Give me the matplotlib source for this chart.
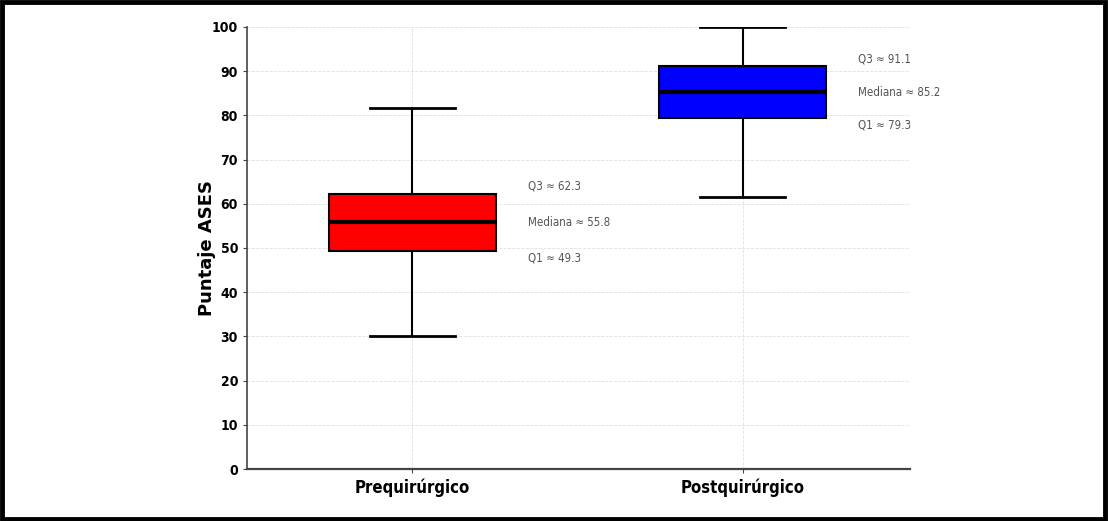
import matplotlib
matplotlib.use("Agg")
import matplotlib.pyplot as plt
from matplotlib.patches import Rectangle

# data
groups = ["Prequirúrgico", "Postquirúrgico"]
whisker_low = [30.0, 61.6]
q1 = [49.3, 79.3]
median = [55.8, 85.2]
q3 = [62.3, 91.1]
whisker_high = [81.7, 100.0]
box_colors = ["red", "blue"]

narrow = dict(family="DejaVu Sans", stretch="condensed")

fig = plt.figure(figsize=(11.08, 5.21), dpi=100)
ax = fig.add_axes([0.223, 0.0998, 0.598, 0.8484])

stats = []
for i, name in enumerate(groups):
    stats.append({
        "label": name,
        "whislo": whisker_low[i],
        "q1": q1[i],
        "med": median[i],
        "q3": q3[i],
        "whishi": whisker_high[i],
        "fliers": [],
    })

bp = ax.bxp(stats, positions=[1, 2], widths=0.505, patch_artist=True,
            showfliers=False,
            boxprops=dict(linewidth=1.5, edgecolor="black"),
            medianprops=dict(color="black", linewidth=3),
            whiskerprops=dict(color="black", linewidth=1.5),
            capprops=dict(color="black", linewidth=2),
            capwidths=0.257)
for patch, c in zip(bp["boxes"], box_colors):
    patch.set_facecolor(c)

# annotations next to each box
for i in range(len(groups)):
    x = i + 1 + 0.35
    ax.text(x, q3[i] + 1.7, f"Q3 ≈ {q3[i]:.1f}", ha="left", va="center",
            fontsize=8.3, color="#555555", **narrow)
    ax.text(x, median[i], f"Mediana ≈ {median[i]:.1f}", ha="left", va="center",
            fontsize=8.3, color="#555555", **narrow)
    ax.text(x, q1[i] - 1.5, f"Q1 ≈ {q1[i]:.1f}", ha="left", va="center",
            fontsize=8.3, color="#555555", **narrow)

ax.set_xlim(0.5, 2.505)
ax.set_ylim(0, 100)
ax.set_yticks(range(0, 101, 10))
ax.set_ylabel("Puntaje ASES", fontsize=13, fontweight="bold")
ax.yaxis.set_label_coords(-0.047, 0.5)

for lab in ax.get_yticklabels():
    lab.set_fontproperties(dict(size=10, weight="bold", **narrow))
for lab in ax.get_xticklabels():
    lab.set_fontproperties(dict(size=12, weight="bold", **narrow))

ax.grid(True, linestyle="--", linewidth=0.6, color="#cccccc", alpha=0.6)
ax.set_axisbelow(True)
ax.spines["top"].set_visible(False)
ax.spines["right"].set_visible(False)
ax.spines["left"].set_color("#444444")
ax.spines["bottom"].set_color("#444444")
ax.spines["left"].set_linewidth(1.2)
ax.spines["bottom"].set_linewidth(1.6)
ax.tick_params(axis="both", length=3, color="#444444")

# black frame round the picture
fig.patches.append(Rectangle((0.002, 0.004), 0.9955, 0.9925, transform=fig.transFigure,
                             fill=False, edgecolor="black", linewidth=3.5))

fig.savefig("out.png", dpi=100)
